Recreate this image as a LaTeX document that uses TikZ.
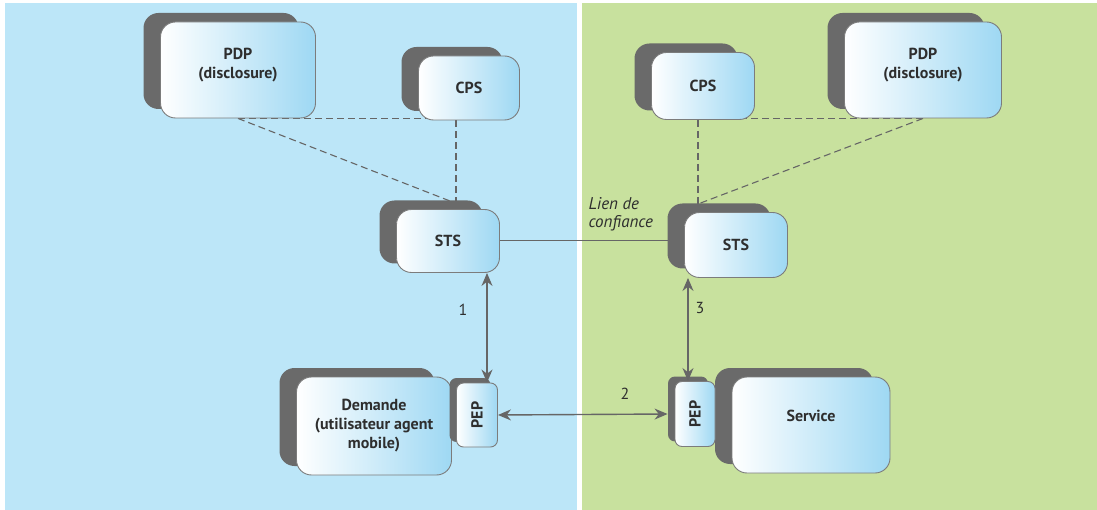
\documentclass[tikz,border=0pt]{standalone}
\usepackage{fontspec}
\setmainfont{PT Sans}
\usetikzlibrary{shadows,backgrounds,arrows.meta}

\definecolor{bgblue}{HTML}{BCE6F8}
\definecolor{bggreen}{HTML}{C8E19E}
\definecolor{boxblue}{HTML}{9ED8F3}
\definecolor{boxline}{HTML}{7C7C7C}
\definecolor{shadowgray}{HTML}{6A6A6A}
\definecolor{linegray}{HTML}{666666}
\definecolor{textgray}{HTML}{2E2E2E}

\tikzset{
  boxbase/.style={draw=boxline, line width=0.9pt, left color=white, right color=boxblue,
    text=textgray, font=\fontsize{16}{19}\selectfont\bfseries, align=center, inner sep=2pt},
  box/.style={boxbase, rounded corners=15pt,
    general shadow={fill=shadowgray, shadow xshift=-17pt, shadow yshift=9pt}},
  pepbox/.style={boxbase, rounded corners=7pt, minimum width=41pt, minimum height=64pt,
    general shadow={fill=shadowgray, shadow xshift=-7pt, shadow yshift=5pt}},
  link/.style={draw=linegray, line width=1.1pt, dash pattern=on 7pt off 4pt},
  trust/.style={draw=linegray, line width=1pt},
  dbl/.style={draw=linegray, line width=1.4pt, <->},
  lbl/.style={text=textgray, font=\fontsize{16}{19}\selectfont}
}

\begin{document}
\begin{tikzpicture}[x=1pt, y=-1pt, >={Stealth[length=13pt,width=11pt]}]
                \useasboundingbox (0,0) rectangle (1097,510);

                % Nodes
                \node[box, minimum width=155pt, minimum height=96pt] at (238, 70) (pdpL) {PDP\\(disclosure)\\[-6pt]};
                \node[box, minimum width=101pt, minimum height=64pt] at (469, 88) (cpsL) {CPS};
                \node[box, minimum width=103pt, minimum height=63pt] at (448, 241) (stsL) {STS};
                \node[box, minimum width=155pt, minimum height=98pt] at (374, 426) (dem) {Demande\\(utilisateur agent\\mobile)};
                \node[pepbox] at (477, 415) (pepL) {\rotatebox{90}{PEP}};

                \node[box, minimum width=103pt, minimum height=67pt] at (703, 86) (cpsR) {CPS};
                \node[box, minimum width=157pt, minimum height=96pt] at (923, 70) (pdpR) {PDP\\(disclosure)\\[-6pt]};
                \node[box, minimum width=103pt, minimum height=65pt] at (736, 245) (stsR) {STS};
                \node[box, minimum width=158pt, minimum height=96pt] at (811, 425) (serv) {Service\\[0pt]};
                \node[pepbox, minimum width=40pt, minimum height=65pt] at (695, 414) (pepR) {\rotatebox{90}{PEP}};

                % Meeting points of the dashed lines
                \coordinate (jL) at (456, 201);
                \coordinate (jR) at (698, 204);
                \coordinate (a1) at (487, 0);
                \coordinate (a3) at (688, 0);

                % Labels
                \node[lbl] at (463, 310) (n1) {1};
                \node[lbl] at (625, 394) (n2) {2};
                \node[lbl] at (700, 308) (n3) {3};
                \node[lbl, anchor=west, align=left, font=\fontsize{17}{18}\selectfont\itshape] at (585, 214) (lien) {Lien de\\confiance};

                % Background and links
                \begin{scope}[on background layer]
                \fill[white] (0, 0) rectangle (1097, 510);
                \fill[bgblue] (5, 3) rectangle (577, 510);
                \fill[bggreen] (582, 3) rectangle (1097, 510);

                \draw[link] (pdpL.south) -- (jL |- pdpL.south);
                \draw[link] (pdpL.south) -- ([xshift=-6pt]jL);
                \draw[link] (jL |- cpsL.south) -- (jL);
                \draw[link] (pdpR.south) -- (jR |- pdpR.south);
                \draw[link] (pdpR.south) -- (jR);
                \draw[link] (jR |- cpsR.south) -- (jR);

                \draw[trust] (stsL.east) -- (stsL.east -| stsR.center);
                \end{scope}

                % Arrows
                \draw[dbl] (stsL.south -| a1) -- (pepL.north -| a1);
                \draw[dbl] (stsR.south -| a3) -- (pepR.north -| a3);
                \draw[dbl] (pepL.east) -- ([xshift=-7pt]pepR.west);
\end{tikzpicture}
\end{document}
